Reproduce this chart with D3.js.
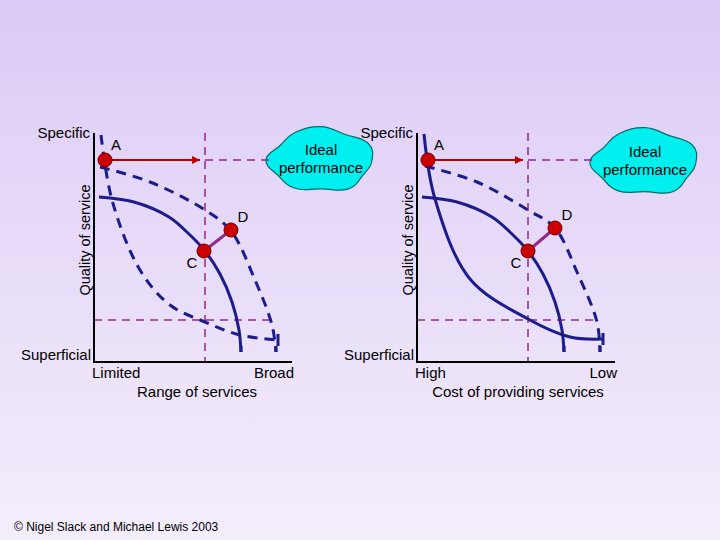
<!DOCTYPE html>
<html><head><meta charset="utf-8">
<script src="https://cdn.jsdelivr.net/npm/d3@7"></script>
<style>body{margin:0}svg{display:block}</style>
</head><body>
<script>
// curve data, in axis units (x from left axis, y up from bottom axis)
const solidCurve = [[5,165],[40,160],[75,145],[96,127],[111,111],[126,88],[138,60],[145,32],[147,10]];
const outerDashedL = [[6,195],[56,180],[111,152],[137,131],[161,82],[178,37],[182,10]];
const innerDashedL = [[7,227],[18,162],[46,92],[76,57],[111,40],[146,27],[184,22]];
const outerDashedR = [[8,196],[60,180],[111,152],[138,134],[160,90],[180,40],[183,10]];
const steepSolidR = [[7,228],[18,163],[53,83],[111,43],[153,25],[186,23]];
const pointsL = [{n:"A",x:11,y:202},{n:"C",x:110,y:111},{n:"D",x:137,y:132}];
const pointsR = [{n:"A",x:11,y:202},{n:"C",x:111,y:111},{n:"D",x:138,y:134}];
const cloudR = [1,0.95,1.05,0.9,1.02,0.97,1.08,0.92,1,1.04,0.93,1.06];

const W = 720, H = 540;
const svg = d3.select("body").append("svg").attr("width", W).attr("height", H);
const grad = svg.append("defs").append("linearGradient").attr("id","bg").attr("x1",0).attr("y1",0).attr("x2",0).attr("y2",1);
grad.append("stop").attr("offset","0").attr("stop-color","#dccbf6");
grad.append("stop").attr("offset","1").attr("stop-color","#f4eefb");
svg.append("rect").attr("width",W).attr("height",H).attr("fill","url(#bg)");

const font = "Liberation Sans, Arial, sans-serif";
const navy = "#1c1c8a", purple = "#8e2a8e", red = "#c00000";

function cloud(cx, cy, rx, ry) {
  const pts = cloudR.map((r,i) => {
    const a = i / cloudR.length * 2 * Math.PI;
    return [cx + Math.cos(a)*rx*r, cy + Math.sin(a)*ry*r];
  });
  svg.append("path").attr("d", d3.line().curve(d3.curveCardinalClosed.tension(-0.3))(pts))
    .attr("fill","#00f0f0").attr("stroke","#0a6a6a").attr("stroke-width",1.2);
  svg.append("text").attr("x",cx).attr("y",cy-5).attr("text-anchor","middle")
    .attr("font-family",font).attr("font-size",15).text("Ideal");
  svg.append("text").attr("x",cx).attr("y",cy+13).attr("text-anchor","middle")
    .attr("font-family",font).attr("font-size",15).text("performance");
}

function panel(ox, opts) {
  const x = d3.scaleLinear().domain([0,198]).range([ox, ox+198]);
  const y = d3.scaleLinear().domain([0,229]).range([362, 133]);
  const g = svg.append("g");
  const line = d3.line().x(d=>x(d[0])).y(d=>y(d[1])).curve(d3.curveCatmullRom);
  const dash = "10,7";
  // guides
  g.append("line").attr("x1",x(111)).attr("x2",x(111)).attr("y1",y(229)).attr("y2",y(0))
    .attr("stroke",purple).attr("stroke-width",1.5).attr("stroke-dasharray","8,6");
  g.append("line").attr("x1",x(111)).attr("x2",x(opts.hEnd)).attr("y1",y(202)).attr("y2",y(202))
    .attr("stroke",purple).attr("stroke-width",1.5).attr("stroke-dasharray","8,6");
  g.append("line").attr("x1",x(0)).attr("x2",x(180)).attr("y1",y(42)).attr("y2",y(42))
    .attr("stroke",purple).attr("stroke-width",1.5).attr("stroke-dasharray","8,6");
  // curves
  opts.curves.forEach(c => {
    g.append("path").attr("d", line(c.data)).attr("fill","none").attr("stroke",navy)
      .attr("stroke-width",3).attr("stroke-dasharray", c.dashed ? dash : null);
    const e = c.data[c.data.length-1];
    if (e[1] > 15) g.append("line").attr("x1",x(e[0])).attr("x2",x(e[0])).attr("y1",y(e[1])-6).attr("y2",y(e[1])+6).attr("stroke",navy).attr("stroke-width",3);
    else g.append("line").attr("x1",x(e[0])).attr("x2",x(e[0])).attr("y1",y(e[1])).attr("y2",y(e[1])-6).attr("stroke",navy).attr("stroke-width",3);
  });
  // axes
  g.append("path").attr("d",`M${x(0)},${y(229)}V${y(0)}H${x(198)}`).attr("fill","none").attr("stroke","#000").attr("stroke-width",2);
  // arrows
  const pts = opts.points, A = pts[0], C = pts[1], D = pts[2];
  g.append("line").attr("x1",x(A.x)).attr("y1",y(A.y)).attr("x2",x(106)).attr("y2",y(A.y)).attr("stroke",red).attr("stroke-width",2);
  g.append("path").attr("d",`M${x(98)},${y(A.y)-4}L${x(106)},${y(A.y)}L${x(98)},${y(A.y)+4}Z`).attr("fill",red);
  g.append("line").attr("x1",x(C.x)).attr("y1",y(C.y)).attr("x2",x(D.x)).attr("y2",y(D.y)).attr("stroke",purple).attr("stroke-width",3);
  g.selectAll("circle").data(pts).join("circle").attr("cx",d=>x(d.x)).attr("cy",d=>y(d.y)).attr("r",7)
    .attr("fill","#cc0000").attr("stroke","#600").attr("stroke-width",1);
  const lab = {A:[11,-10],C:[-12,17],D:[12,-8]};
  g.selectAll("text.pt").data(pts).join("text").attr("class","pt")
    .attr("x",d=>x(d.x)+lab[d.n][0]).attr("y",d=>y(d.y)+lab[d.n][1]).attr("text-anchor","middle")
    .attr("font-family",font).attr("font-size",15).text(d=>d.n);
  // text
  const t = (tx,ty,s,anchor) => g.append("text").attr("x",tx).attr("y",ty).attr("text-anchor",anchor)
    .attr("font-family",font).attr("font-size",15).text(s);
  t(ox-4,138,"Specific","end");
  t(ox-3,360,"Superficial","end");
  t(ox-2,378,opts.lo,"start");
  t(ox+200,378,opts.hi,"end");
  t(ox+opts.titleDx,397,opts.title,"middle");
  g.append("text").attr("transform",`translate(${ox-4},240) rotate(-90)`).attr("text-anchor","middle")
    .attr("font-family",font).attr("font-size",14.5).text("Quality of service");
}

cloud(321,160,51,32);
cloud(645,162,51,33);

panel(94, {hEnd:175, points:pointsL, lo:"Limited", hi:"Broad", title:"Range of services", titleDx:103,
  curves:[{data:solidCurve},{data:outerDashedL,dashed:true},{data:innerDashedL,dashed:true}]});
panel(417, {hEnd:180, points:pointsR, lo:"High", hi:"Low", title:"Cost of providing services", titleDx:101,
  curves:[{data:solidCurve},{data:outerDashedR,dashed:true},{data:steepSolidR}]});

svg.append("text").attr("x",14).attr("y",531).attr("font-family",font).attr("font-size",12)
  .text("© Nigel Slack and Michael Lewis 2003");
</script>
</body></html>
